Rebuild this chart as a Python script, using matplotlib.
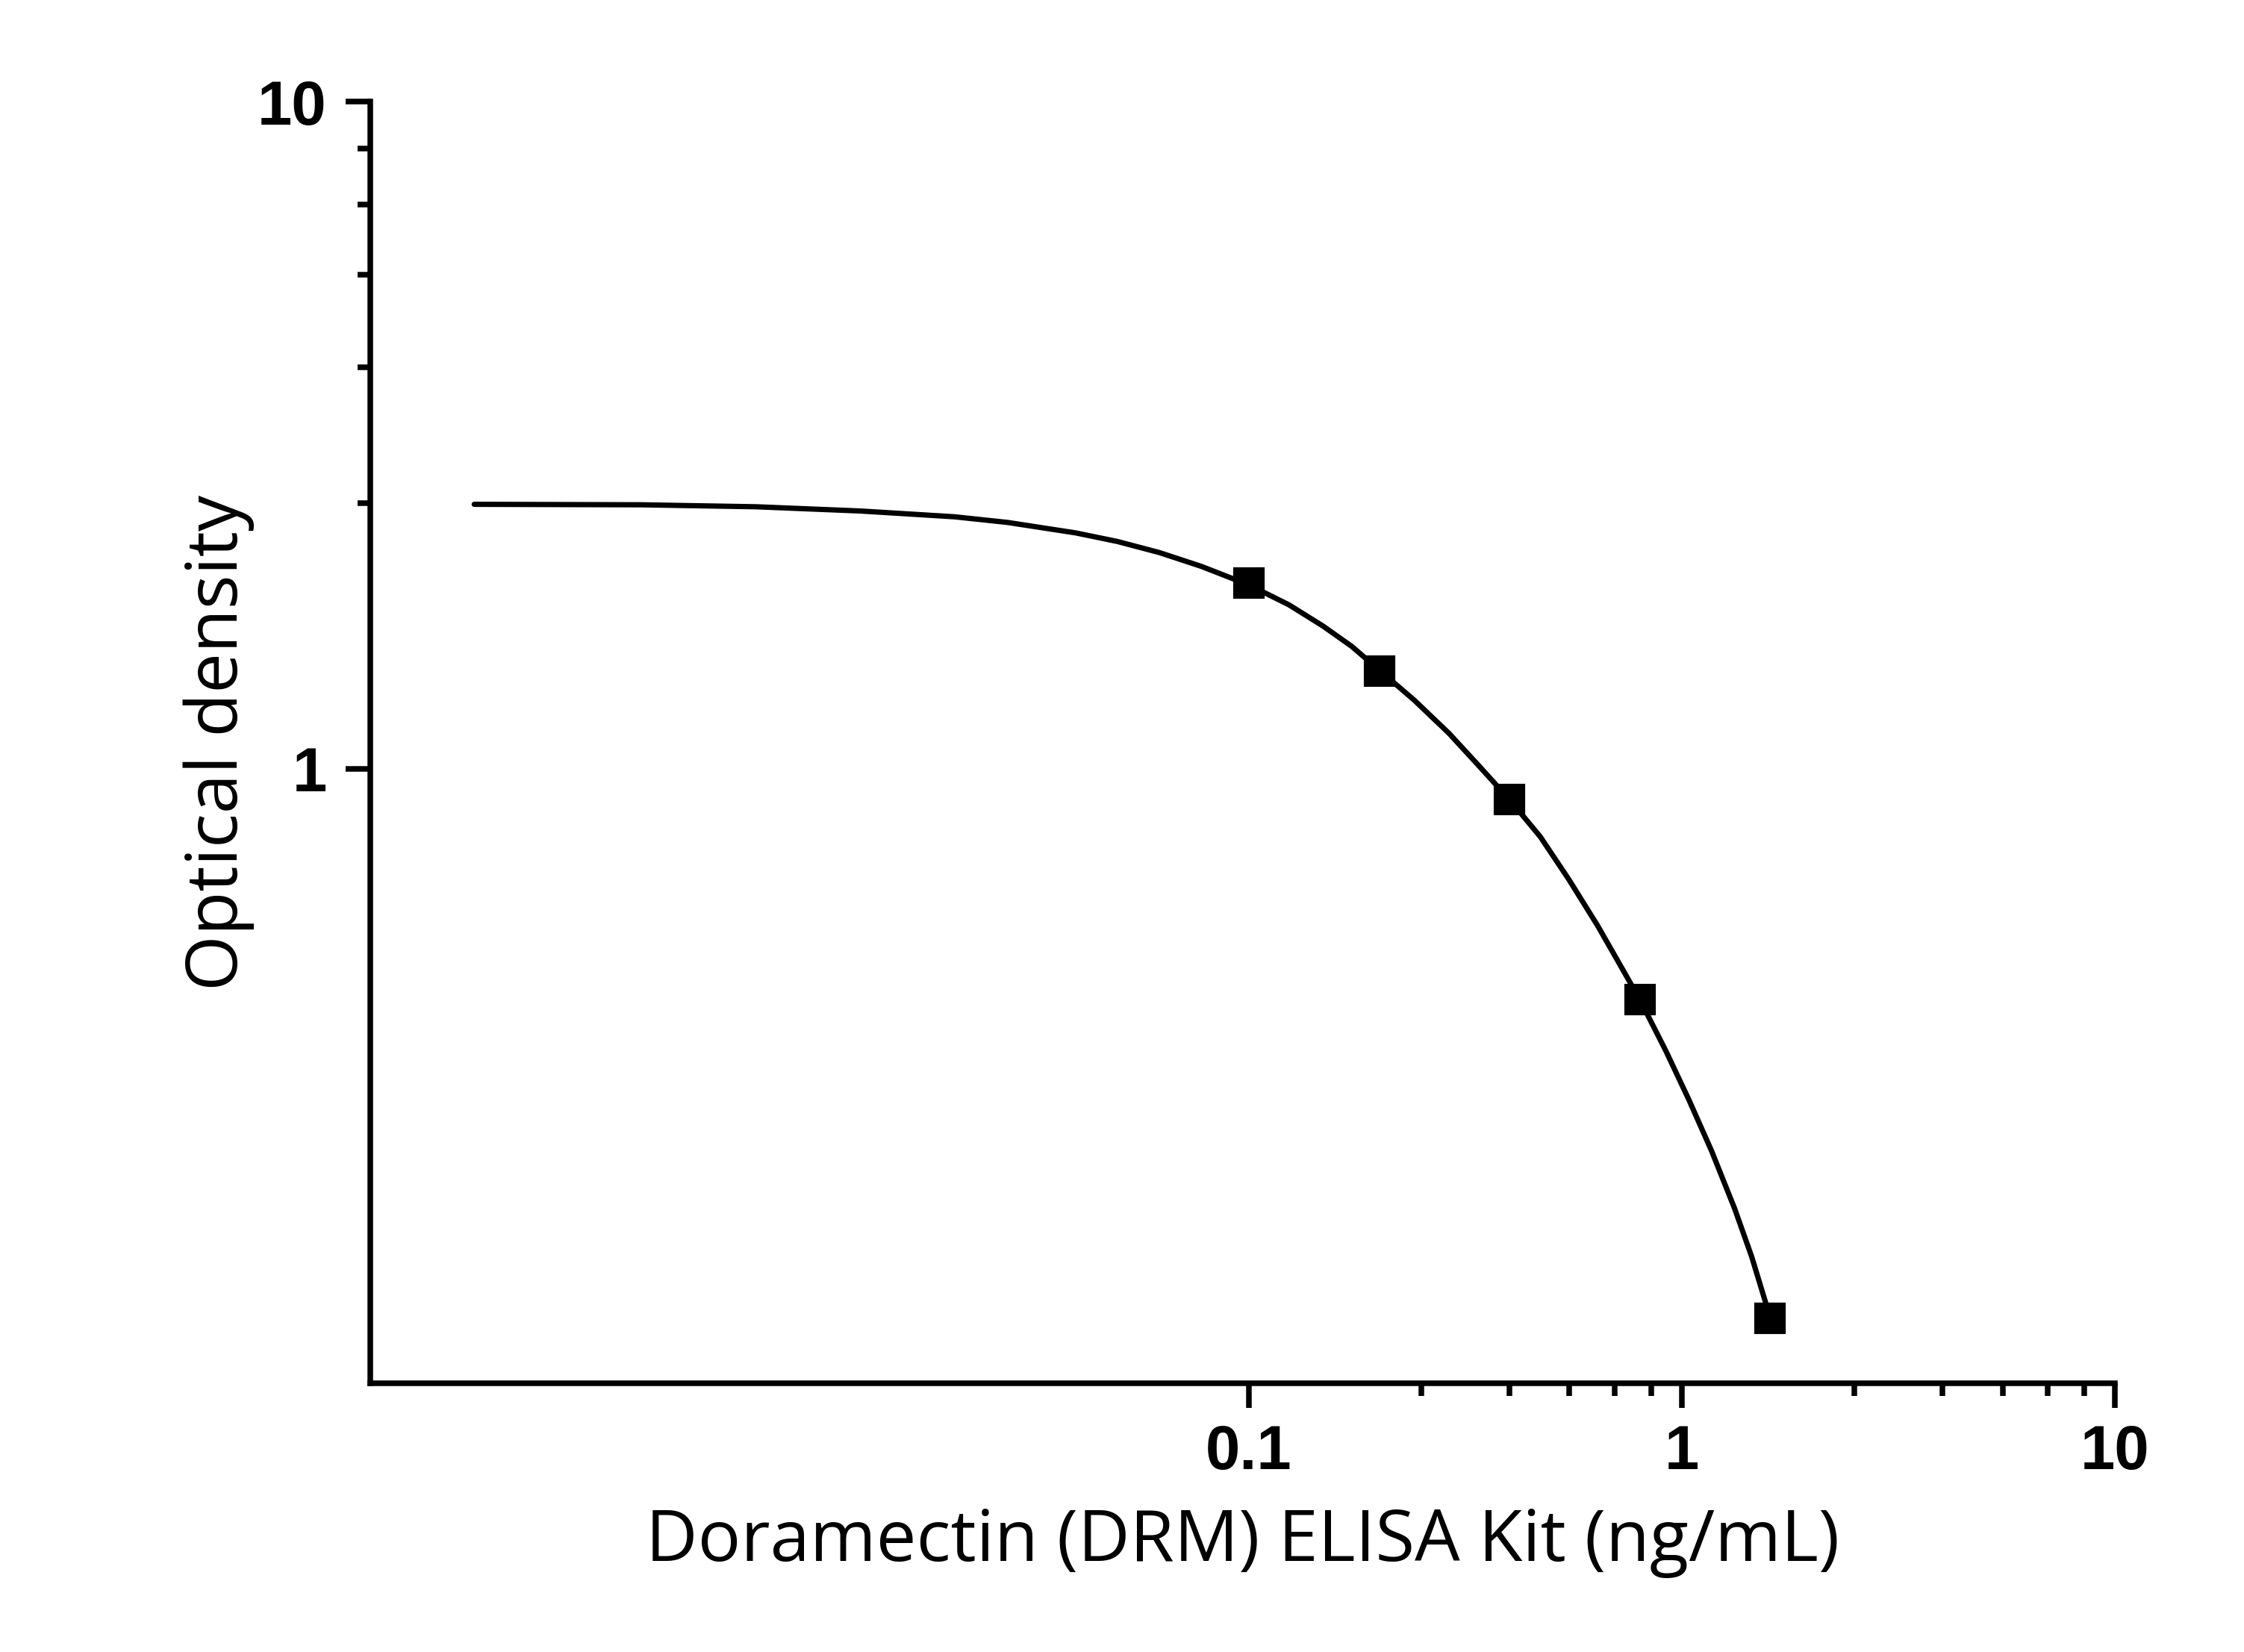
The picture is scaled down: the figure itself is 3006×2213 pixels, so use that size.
import matplotlib
matplotlib.use("Agg")
import matplotlib.pyplot as plt
from matplotlib.ticker import FixedLocator, FixedFormatter, NullFormatter

# measured standards
conc = [0.1, 0.2, 0.4, 0.8, 1.6]
od = [1.90, 1.40, 0.898, 0.450, 0.150]

# fitted curve
curve_x = [0.001625, 0.00394, 0.00728, 0.0127, 0.0209, 0.0277, 0.0398, 0.0497,
           0.0621, 0.0776, 0.1, 0.1237, 0.1484, 0.1727, 0.2, 0.2413, 0.2895,
           0.3371, 0.4, 0.471, 0.548, 0.638, 0.7205, 0.8, 0.9186, 1.037,
           1.171, 1.323, 1.449, 1.6]
curve_y = [2.49, 2.486, 2.469, 2.433, 2.385, 2.339, 2.256, 2.19, 2.108, 2.01,
           1.885, 1.76, 1.635, 1.525, 1.405, 1.265, 1.13, 1.015, 0.898, 0.790,
           0.682, 0.582, 0.507, 0.450, 0.377, 0.319, 0.267, 0.219, 0.1854, 0.150]

x_major = [0.1, 1, 10]
x_major_labels = ["0.1", "1", "10"]
x_minor = [0.25, 0.4, 0.55, 0.7, 0.85, 2.5, 4, 5.5, 7, 8.5]
y_major = [1, 10]
y_major_labels = ["1", "10"]
y_minor = [2.5, 4, 5.5, 7, 8.5]

fig = plt.figure(figsize=(10.02, 7.3767), dpi=300)
ax = fig.add_axes([0.165, 0.1627, 0.7775, 0.7758])

ax.plot(curve_x, curve_y, color="black", lw=1.7, solid_capstyle="round",
        solid_joinstyle="round")
ax.plot(conc, od, "s", color="black", ms=9, lw=0)

ax.set_xscale("log")
ax.set_yscale("log")
ax.set_xlim(0.000935, 10)
ax.set_ylim(0.1198, 10)

ax.xaxis.set_major_locator(FixedLocator(x_major))
ax.xaxis.set_major_formatter(FixedFormatter(x_major_labels))
ax.xaxis.set_minor_locator(FixedLocator(x_minor))
ax.xaxis.set_minor_formatter(NullFormatter())
ax.yaxis.set_major_locator(FixedLocator(y_major))
ax.yaxis.set_major_formatter(FixedFormatter(y_major_labels))
ax.yaxis.set_minor_locator(FixedLocator(y_minor))
ax.yaxis.set_minor_formatter(NullFormatter())

for side in ["top", "right"]:
    ax.spines[side].set_visible(False)
for side in ["left", "bottom"]:
    ax.spines[side].set_linewidth(1.8)

ax.tick_params(which="major", direction="out", length=8, width=1.8)
ax.tick_params(which="minor", direction="out", length=4, width=1.8)
ax.tick_params(axis="x", which="major", pad=5)
ax.tick_params(axis="y", which="major", pad=6)
for lab in ax.get_xticklabels() + ax.get_yticklabels():
    lab.set_fontfamily("Liberation Sans")
    lab.set_fontweight("bold")
    lab.set_fontsize(20)

ax.set_xlabel("Doramectin (DRM) ELISA Kit (ng/mL)", fontfamily="Open Sans",
              fontsize=23, labelpad=8)
ax.set_ylabel("Optical density", fontfamily="Open Sans", fontsize=23, labelpad=1)

fig.savefig("out.png", dpi=300)
